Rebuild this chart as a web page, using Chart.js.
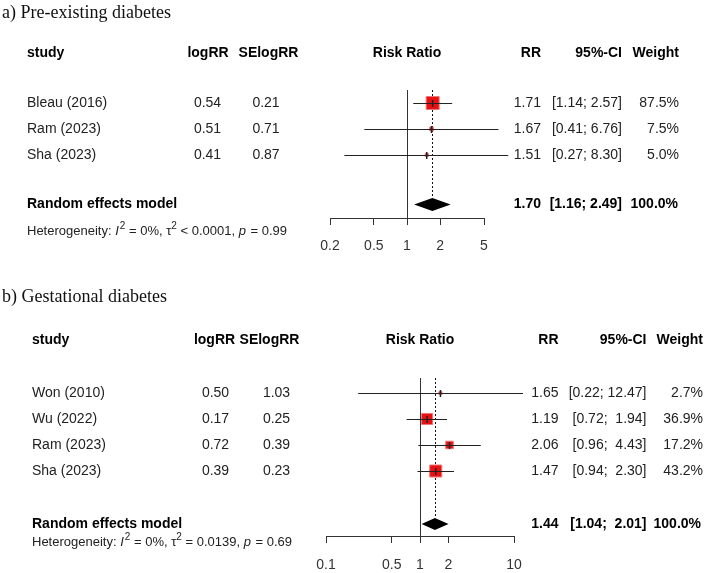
<!DOCTYPE html>
<html><head><meta charset="utf-8">
<script src="https://cdn.jsdelivr.net/npm/chart.js@4.4.1/dist/chart.umd.min.js"></script>
<style>
html,body{margin:0;padding:0;background:#fff;}
#wrap{position:relative;width:709px;height:573px;overflow:hidden;background:#fff;}
canvas{display:block;position:absolute;left:0;}
</style></head><body>
<div id="wrap">
<canvas id="ca" width="709" height="280" style="top:0px"></canvas>
<canvas id="cb" width="709" height="293" style="top:280px"></canvas>
</div>
<script>
// ---------- data: a) Pre-existing diabetes ----------
const studiesA = ['Bleau (2016)', 'Ram (2023)', 'Sha (2023)'];
const logRRA   = [0.54, 0.51, 0.41];
const seLogRRA = [0.21, 0.71, 0.87];
const rrA      = [1.71, 1.67, 1.51];
const lowerA   = [1.14, 0.41, 0.27];
const upperA   = [2.57, 6.76, 8.30];
const weightA  = [87.5, 7.5, 5.0];
const pooledA  = [1.70, 1.16, 2.49];          // RR, lower, upper
const hetA     = ['0%', '< 0.0001', '= 0.99'];  // I2, tau2, p
const ticksA   = [0.2, 0.5, 1, 2, 5];

// ---------- data: b) Gestational diabetes ----------
const studiesB = ['Won (2010)', 'Wu (2022)', 'Ram (2023)', 'Sha (2023)'];
const logRRB   = [0.50, 0.17, 0.72, 0.39];
const seLogRRB = [1.03, 0.25, 0.39, 0.23];
const rrB      = [1.65, 1.19, 2.06, 1.47];
const lowerB   = [0.22, 0.72, 0.96, 0.94];
const upperB   = [12.47, 1.94, 4.43, 2.30];
const weightB  = [2.7, 36.9, 17.2, 43.2];
const pooledB  = [1.44, 1.04, 2.01];
const hetB     = ['0%', '= 0.0139', '= 0.69'];
const ticksB   = [0.1, 0.5, 1, 2, 10];

// ---------- layout ----------
const SANS = '"Liberation Sans", Arial, Helvetica, sans-serif';
const SERIF = '"Liberation Serif", "Times New Roman", serif';

const layoutA = {
  title: 'a) Pre-existing diabetes', titleY: 13,
  padding: {left: 330, right: 225, top: 90, bottom: 22}, axisH: 40, tickPad: 13,
  yMin: -0.5, yMax: 4.423, summaryRow: 3.9, headerRow: -1.923, hetRow: 4.923,
  col: {study: 27, logRR: 208, logRRv: 207.5, se: 268.5, sev: 266, rr: 541, ci: 622, w: 679, wSum: 678},
  maxSide: 13, diamondH: 6.5
};
const layoutB = {
  title: 'b) Gestational diabetes', titleY: 17,
  padding: {left: 326, right: 195, top: 98, bottom: 2}, axisH: 35, tickPad: 14,
  yMin: -0.577, yMax: 5.5, summaryRow: 5.04, headerRow: -2.04, hetRow: 5.73,
  col: {study: 32, logRR: 214.5, logRRv: 215.5, se: 269.5, sev: 276.5, rr: 558.5, ci: 646.5, w: 703, wSum: 701},
  maxSide: 12, diamondH: 6
};

function padNums(arr) {
  const s = arr.map(v => v.toFixed(2));
  const m = Math.max(...s.map(t => t.length));
  return s.map(t => ' '.repeat(m - t.length) + t);
}

function makePanel(canvasId, L, studies, logRR, se, rr, lo, hi, w, pooled, het, ticks) {
  const maxW = Math.max(...w);
  const sides = w.map(v => L.maxSide * Math.sqrt(v / maxW));
  const loStr = padNums(lo.concat([pooled[1]]));
  const hiStr = padNums(hi.concat([pooled[2]]));
  const ciStr = loStr.map((l, i) => '[' + l + '; ' + hiStr[i] + ']');

  const forestPlugin = {
    id: 'forest',
    beforeDatasetsDraw(chart) {
      const {ctx, chartArea} = chart;
      const x = chart.scales.x, y = chart.scales.y;
      ctx.save();
      ctx.strokeStyle = '#333'; ctx.lineWidth = 1;
      const x1 = Math.round(x.getPixelForValue(1)) + 0.5;
      ctx.beginPath(); ctx.moveTo(x1, chartArea.top); ctx.lineTo(x1, chartArea.bottom); ctx.stroke();
      const xp = Math.round(x.getPixelForValue(pooled[0])) + 0.5;
      const ys = y.getPixelForValue(L.summaryRow);
      ctx.setLineDash([2, 2]);
      ctx.strokeStyle = '#111';
      ctx.beginPath(); ctx.moveTo(xp, chartArea.top); ctx.lineTo(xp, ys - L.diamondH); ctx.stroke();
      ctx.setLineDash([]);
      ctx.restore();
    },
    afterDatasetsDraw(chart) {
      const {ctx} = chart;
      const x = chart.scales.x, y = chart.scales.y;
      ctx.save();
      ctx.strokeStyle = '#222'; ctx.lineWidth = 1;
      studies.forEach((s, i) => {
        const yy = Math.round(y.getPixelForValue(i)) + 0.5;
        ctx.beginPath();
        ctx.moveTo(x.getPixelForValue(lo[i]), yy);
        ctx.lineTo(x.getPixelForValue(hi[i]), yy);
        ctx.stroke();
        const xe = x.getPixelForValue(rr[i]);
        ctx.lineWidth = 1.5;
        ctx.beginPath(); ctx.moveTo(xe, yy - 3.5); ctx.lineTo(xe, yy + 3.5); ctx.stroke();
        ctx.lineWidth = 1;
      });
      const ys = y.getPixelForValue(L.summaryRow);
      ctx.fillStyle = '#000';
      ctx.beginPath();
      ctx.moveTo(x.getPixelForValue(pooled[1]), ys);
      ctx.lineTo(x.getPixelForValue(pooled[0]), ys - L.diamondH);
      ctx.lineTo(x.getPixelForValue(pooled[2]), ys);
      ctx.lineTo(x.getPixelForValue(pooled[0]), ys + L.diamondH);
      ctx.closePath(); ctx.fill();
      ctx.restore();
    },
    afterDraw(chart) {
      const {ctx} = chart;
      const x = chart.scales.x, y = chart.scales.y;
      const C = L.col;
      ctx.save();
      ctx.textBaseline = 'middle';
      const txt = (t, px, py, align, font, color) => {
        ctx.font = font; ctx.fillStyle = color || '#1a1a1a'; ctx.textAlign = align; ctx.fillText(t, px, py);
      };
      const B = 'bold 14px ' + SANS, N = '14px ' + SANS;
      txt(L.title, 2, L.titleY, 'left', '18px ' + SERIF, '#111');
      const yh = y.getPixelForValue(L.headerRow);
      txt('study', C.study, yh, 'left', B, '#000');
      txt('logRR', C.logRR, yh, 'center', B, '#000');
      txt('SElogRR', C.se, yh, 'center', B, '#000');
      txt('Risk Ratio', x.getPixelForValue(1), yh, 'center', B, '#000');
      txt('RR', C.rr, yh, 'right', B, '#000');
      txt('95%-CI', C.ci, yh, 'right', B, '#000');
      txt('Weight', C.w, yh, 'right', B, '#000');
      studies.forEach((s, i) => {
        const yy = y.getPixelForValue(i);
        txt(s, C.study, yy, 'left', N, '#222');
        txt(logRR[i].toFixed(2), C.logRRv, yy, 'center', N, '#222');
        txt(se[i].toFixed(2), C.sev, yy, 'center', N, '#222');
        txt(rr[i].toFixed(2), C.rr, yy, 'right', N, '#222');
        txt(ciStr[i], C.ci, yy, 'right', N, '#222');
        txt(w[i].toFixed(1) + '%', C.w, yy, 'right', N, '#222');
      });
      const ys = y.getPixelForValue(L.summaryRow);
      txt('Random effects model', C.study, ys, 'left', B, '#000');
      txt(pooled[0].toFixed(2), C.rr, ys, 'right', B, '#000');
      txt(ciStr[studies.length], C.ci, ys, 'right', B, '#000');
      txt('100.0%', C.wSum, ys, 'right', B, '#000');
      const yhet = y.getPixelForValue(L.hetRow);
      const segs = [
        ['Heterogeneity: ', 'n'], ['I', 'i'], ['2', 's'], [' = ' + het[0] + ', ', 'n'],
        ['\u03C4', 'n'], ['2', 's'], [' ' + het[1] + ', ', 'n'], ['p', 'i'], [' ' + het[2], 'n']
      ];
      let cx = C.study;
      ctx.textAlign = 'left'; ctx.fillStyle = '#222';
      segs.forEach(([t, k]) => {
        let f = '13px ' + SANS, dy = 0;
        if (k === 'i') f = 'italic 13px ' + SANS;
        if (k === 's') { f = '10px ' + SANS; dy = -5; }
        ctx.font = f;
        ctx.fillText(t, cx, yhet + dy);
        cx += ctx.measureText(t).width + (k === 'i' ? 1 : 0);
      });
      ctx.restore();
    }
  };

  return new Chart(document.getElementById(canvasId), {
    type: 'scatter',
    data: {
      datasets: [{
        data: studies.map((s, i) => ({x: rr[i], y: i})),
        pointStyle: 'rect',
        pointRadius: sides.map(v => v / Math.SQRT2),
        pointHoverRadius: sides.map(v => v / Math.SQRT2),
        backgroundColor: 'rgb(232,16,16)',
        borderColor: 'rgb(235,120,120)',
        borderWidth: 1,
        clip: false
      }]
    },
    options: {
      responsive: false,
      animation: false,
      devicePixelRatio: 1,
      events: [],
      layout: {padding: L.padding},
      plugins: {legend: {display: false}, tooltip: {enabled: false}},
      scales: {
        x: {
          type: 'logarithmic', position: 'bottom',
          min: ticks[0], max: ticks[ticks.length - 1],
          afterBuildTicks: s => { s.ticks = ticks.map(v => ({value: v})); },
          afterFit: s => { s.height = L.axisH; },
          grid: {display: true, drawOnChartArea: false, drawTicks: true, tickLength: 7, color: '#333', lineWidth: 1},
          border: {display: true, color: '#333', width: 1},
          ticks: {
            autoSkip: false, maxRotation: 0, padding: L.tickPad,
            color: '#333', font: {family: SANS, size: 14},
            callback: (v) => String(v)
          }
        },
        y: {
          type: 'linear', display: false, reverse: true,
          min: L.yMin, max: L.yMax
        }
      }
    },
    plugins: [forestPlugin]
  });
}

makePanel('ca', layoutA, studiesA, logRRA, seLogRRA, rrA, lowerA, upperA, weightA, pooledA, hetA, ticksA);
makePanel('cb', layoutB, studiesB, logRRB, seLogRRB, rrB, lowerB, upperB, weightB, pooledB, hetB, ticksB);
</script>
</body></html>
